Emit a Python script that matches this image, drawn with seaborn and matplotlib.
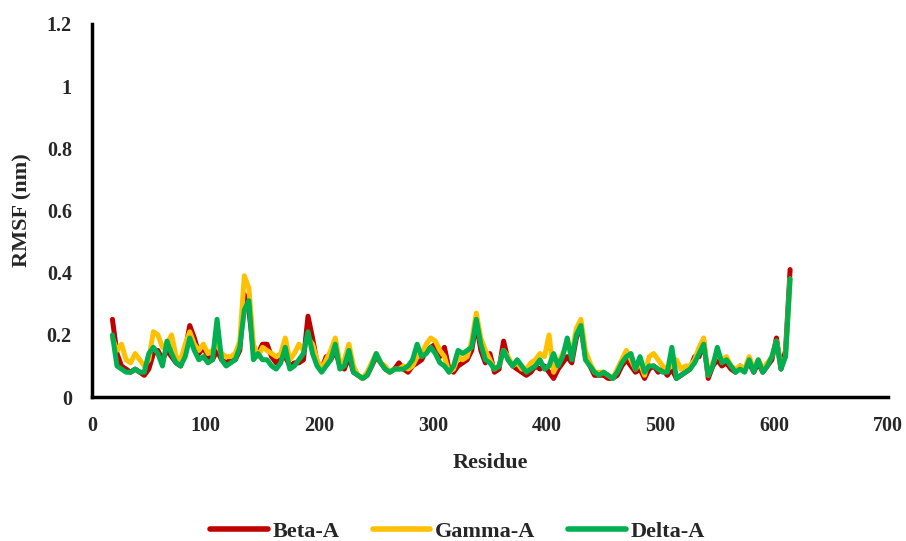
import numpy as np
import pandas as pd
import seaborn as sns
import matplotlib.pyplot as plt

# residue numbers (every 4th residue)
residues = np.arange(18, 618, 4)

beta_a = [0.25, 0.14, 0.10, 0.09, 0.08, 0.09, 0.08, 0.07, 0.09, 0.14,
          0.15, 0.12, 0.15, 0.13, 0.11, 0.10, 0.15, 0.23, 0.19, 0.14,
          0.16, 0.13, 0.12, 0.15, 0.12, 0.11, 0.12, 0.12, 0.15, 0.33,
          0.28, 0.15, 0.14, 0.17, 0.17, 0.13, 0.11, 0.12, 0.13, 0.10,
          0.11, 0.11, 0.12, 0.26, 0.19, 0.11, 0.09, 0.13, 0.12, 0.15,
          0.10, 0.09, 0.13, 0.08, 0.07, 0.06, 0.07, 0.10, 0.13, 0.11,
          0.09, 0.08, 0.09, 0.11, 0.09, 0.08, 0.10, 0.11, 0.12, 0.15,
          0.16, 0.17, 0.13, 0.16, 0.09, 0.08, 0.10, 0.11, 0.12, 0.15,
          0.24, 0.15, 0.11, 0.14, 0.08, 0.09, 0.18, 0.12, 0.10, 0.09,
          0.08, 0.07, 0.08, 0.10, 0.09, 0.10, 0.08, 0.06, 0.09, 0.11,
          0.13, 0.11, 0.19, 0.23, 0.13, 0.10, 0.07, 0.07, 0.07, 0.06,
          0.06, 0.07, 0.10, 0.12, 0.10, 0.08, 0.09, 0.06, 0.09, 0.10,
          0.08, 0.09, 0.07, 0.09, 0.06, 0.07, 0.08, 0.09, 0.13, 0.13,
          0.18, 0.06, 0.10, 0.12, 0.10, 0.11, 0.09, 0.08, 0.10, 0.09,
          0.11, 0.08, 0.11, 0.08, 0.10, 0.12, 0.19, 0.09, 0.15, 0.41]

gamma_a = [0.19, 0.15, 0.17, 0.12, 0.11, 0.14, 0.12, 0.10, 0.12, 0.21,
           0.20, 0.16, 0.17, 0.20, 0.13, 0.12, 0.17, 0.21, 0.17, 0.15,
           0.17, 0.14, 0.15, 0.17, 0.14, 0.13, 0.13, 0.14, 0.18, 0.39,
           0.35, 0.17, 0.13, 0.16, 0.15, 0.14, 0.13, 0.14, 0.19, 0.12,
           0.14, 0.17, 0.15, 0.19, 0.17, 0.12, 0.09, 0.12, 0.15, 0.19,
           0.11, 0.12, 0.17, 0.10, 0.07, 0.06, 0.08, 0.11, 0.14, 0.11,
           0.10, 0.08, 0.09, 0.09, 0.10, 0.09, 0.10, 0.13, 0.14, 0.17,
           0.19, 0.18, 0.15, 0.13, 0.08, 0.09, 0.13, 0.12, 0.13, 0.18,
           0.27, 0.19, 0.15, 0.12, 0.09, 0.10, 0.15, 0.13, 0.10, 0.11,
           0.09, 0.09, 0.11, 0.12, 0.14, 0.13, 0.20, 0.08, 0.11, 0.14,
           0.17, 0.14, 0.22, 0.25, 0.15, 0.11, 0.08, 0.08, 0.08, 0.07,
           0.06, 0.09, 0.12, 0.15, 0.12, 0.09, 0.11, 0.07, 0.13, 0.14,
           0.12, 0.10, 0.09, 0.10, 0.12, 0.09, 0.10, 0.10, 0.12, 0.16,
           0.19, 0.07, 0.11, 0.14, 0.12, 0.13, 0.10, 0.09, 0.10, 0.09,
           0.13, 0.09, 0.12, 0.09, 0.11, 0.13, 0.18, 0.10, 0.13, 0.38]

delta_a = [0.20, 0.10, 0.09, 0.08, 0.08, 0.09, 0.08, 0.08, 0.14, 0.16,
           0.14, 0.10, 0.18, 0.14, 0.11, 0.10, 0.13, 0.19, 0.15, 0.12,
           0.13, 0.11, 0.12, 0.25, 0.12, 0.10, 0.11, 0.12, 0.16, 0.28,
           0.31, 0.12, 0.14, 0.12, 0.12, 0.10, 0.09, 0.11, 0.16, 0.09,
           0.10, 0.12, 0.14, 0.21, 0.14, 0.10, 0.08, 0.10, 0.12, 0.17,
           0.09, 0.10, 0.15, 0.08, 0.07, 0.06, 0.07, 0.10, 0.14, 0.11,
           0.09, 0.08, 0.09, 0.09, 0.09, 0.10, 0.12, 0.17, 0.13, 0.14,
           0.16, 0.14, 0.11, 0.10, 0.08, 0.10, 0.15, 0.14, 0.15, 0.16,
           0.25, 0.17, 0.12, 0.11, 0.09, 0.10, 0.15, 0.12, 0.10, 0.12,
           0.10, 0.08, 0.09, 0.10, 0.12, 0.09, 0.10, 0.14, 0.10, 0.13,
           0.19, 0.12, 0.20, 0.23, 0.12, 0.10, 0.08, 0.07, 0.08, 0.07,
           0.06, 0.08, 0.11, 0.13, 0.14, 0.09, 0.13, 0.08, 0.10, 0.10,
           0.09, 0.08, 0.08, 0.16, 0.06, 0.07, 0.08, 0.09, 0.11, 0.14,
           0.17, 0.07, 0.10, 0.16, 0.11, 0.12, 0.10, 0.08, 0.09, 0.08,
           0.12, 0.08, 0.12, 0.08, 0.10, 0.13, 0.18, 0.09, 0.13, 0.38]

series_names = ['Beta-A', 'Gamma-A', 'Delta-A']
colors = ['#C00000', '#FFC000', '#00B050']

frames = []
for name, vals in zip(series_names, [beta_a, gamma_a, delta_a]):
    frames.append(pd.DataFrame({'Residue': residues, 'RMSF': vals, 'Model': name}))
df = pd.concat(frames, ignore_index=True)

sns.set_style('white')
plt.rcParams['font.family'] = ['Liberation Serif', 'DejaVu Serif']
plt.rcParams['font.weight'] = 'bold'

fig = plt.figure(figsize=(9.06, 5.41), dpi=100)
ax = fig.add_axes([0.1015, 0.266, 0.8785, 0.69])

sns.lineplot(data=df, x='Residue', y='RMSF', hue='Model', hue_order=series_names,
             palette=colors, linewidth=3.6, ax=ax, legend=False)

ax.set_xlim(0, 700)
ax.set_ylim(0, 1.2)
ax.set_xticks(range(0, 800, 100))
ax.set_yticks([0, 0.2, 0.4, 0.6, 0.8, 1.0, 1.2])
ax.set_yticklabels(['0', '0.2', '0.4', '0.6', '0.8', '1', '1.2'])

for side in ['top', 'right']:
    ax.spines[side].set_visible(False)
for side in ['left', 'bottom']:
    ax.spines[side].set_linewidth(2.5)
    ax.spines[side].set_color('black')

ax.tick_params(axis='both', direction='inout', length=9, width=2.5,
               labelsize=14.5, color='black')
ax.tick_params(axis='x', pad=9)
ax.tick_params(axis='y', pad=10)
for lbl in ax.get_xticklabels() + ax.get_yticklabels():
    lbl.set_fontweight('bold')

ax.set_xlabel('Residue', fontsize=16, fontweight='bold', labelpad=12)
ax.set_ylabel('RMSF (nm)', fontsize=16, fontweight='bold', labelpad=10)

handles = [plt.Line2D([0], [0], color=c, linewidth=4, solid_capstyle='round') for c in colors]
fig.legend(handles, series_names, loc='center', bbox_to_anchor=(0.505, 0.018),
           ncol=3, frameon=False, handlelength=2.6, columnspacing=1.5,
           handletextpad=0.2, prop={'weight': 'bold', 'size': 16})

fig.savefig('out.png', dpi=100)
